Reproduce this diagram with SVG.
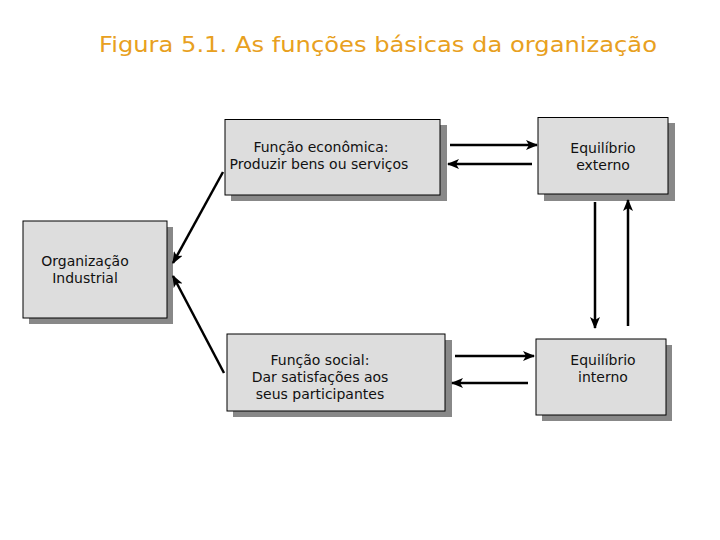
<svg xmlns="http://www.w3.org/2000/svg" width="720" height="540" viewBox="0 0 720 540">
<style>
.box{fill:#dddddd;stroke:#000;stroke-width:1}
.sh{fill:#888888}
.t{font-family:"DejaVu Sans",Verdana,sans-serif;font-size:14px;fill:#111;text-anchor:middle}
.title{font-family:"DejaVu Sans",Verdana,sans-serif;font-size:22px;fill:#e8a020}
.c{stroke:#000;stroke-width:2.5;fill:none;marker-end:url(#ah)}
</style>
<defs>
<marker id="ah" markerUnits="userSpaceOnUse" viewBox="0 0 12 10" refX="11" refY="5" markerWidth="12" markerHeight="10" orient="auto">
<path d="M0,0 L12,5 L0,10 L3,5 z" fill="#000"/>
</marker>
</defs>
<rect width="720" height="540" fill="#fff"/>
<text class="title" x="99" y="52" textLength="558" lengthAdjust="spacingAndGlyphs">Figura 5.1. As funções básicas da organização</text>

<g id="funcao-economica">
<rect class="sh" x="231" y="125" width="216" height="76"/>
<rect class="box" x="225" y="119.5" width="215" height="75.5"/>
<text class="t" x="321" y="152">Função econômica:</text>
<text class="t" x="319" y="169">Produzir bens ou serviços</text>
</g>

<g id="equilibrio-externo">
<rect class="sh" x="544" y="123" width="131" height="78"/>
<rect class="box" x="538" y="117.5" width="130" height="76.5"/>
<text class="t" x="603" y="153">Equilíbrio</text>
<text class="t" x="603" y="170">externo</text>
</g>

<g id="organizacao-industrial">
<rect class="sh" x="29" y="227" width="144" height="97"/>
<rect class="box" x="23" y="221" width="144" height="97"/>
<text class="t" x="85" y="266">Organização</text>
<text class="t" x="85" y="283">Industrial</text>
</g>

<g id="funcao-social">
<rect class="sh" x="233" y="340" width="219" height="77"/>
<rect class="box" x="227" y="334" width="218" height="77"/>
<text class="t" x="320" y="365">Função social:</text>
<text class="t" x="320" y="382">Dar satisfações aos</text>
<text class="t" x="320" y="399">seus participantes</text>
</g>

<g id="equilibrio-interno">
<rect class="sh" x="542" y="345" width="130" height="76"/>
<rect class="box" x="536" y="339" width="130" height="76"/>
<text class="t" x="603" y="365">Equilíbrio</text>
<text class="t" x="603" y="382">interno</text>
</g>

<g id="connectors">
<line class="c" x1="223" y1="172" x2="173" y2="263"/>
<line class="c" x1="224" y1="373" x2="173" y2="276"/>
<line class="c" x1="450" y1="145" x2="537" y2="145"/>
<line class="c" x1="532" y1="164" x2="448" y2="164"/>
<line class="c" x1="595" y1="202" x2="595" y2="328"/>
<line class="c" x1="628" y1="326" x2="628" y2="200"/>
<line class="c" x1="455" y1="356" x2="534" y2="356"/>
<line class="c" x1="528" y1="383" x2="452" y2="383"/>
</g>
</svg>
